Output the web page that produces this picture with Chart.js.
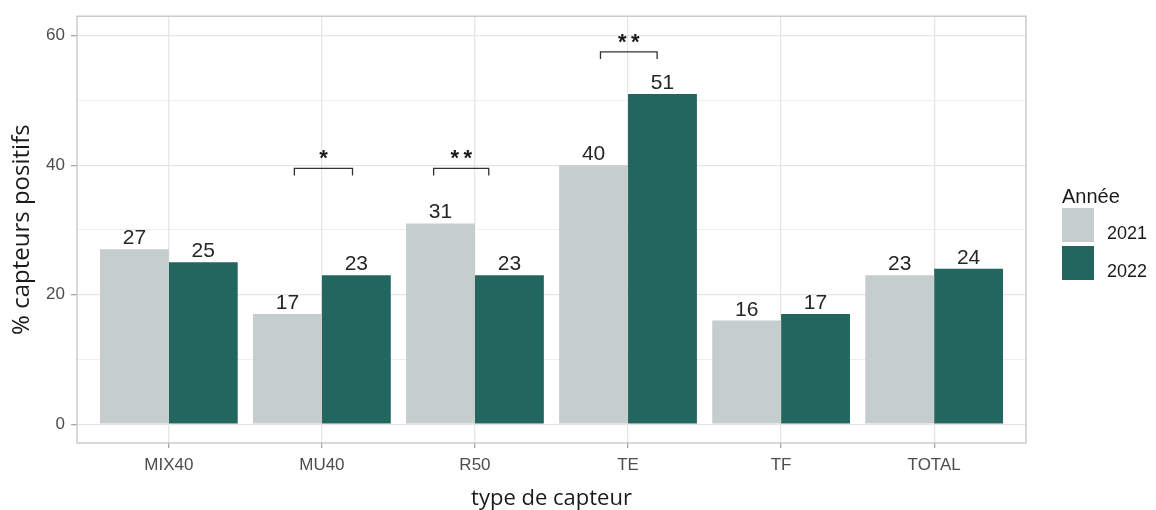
<!DOCTYPE html>
<html lang="fr">
<head>
<meta charset="utf-8">
<title>% capteurs positifs par type de capteur</title>
<script src="https://cdn.jsdelivr.net/npm/chart.js@4.4.1/dist/chart.umd.min.js"></script>
<style>
  html, body { margin: 0; padding: 0; background: #fff; }
  #chart { display: block; }
</style>
</head>
<body>
<canvas id="chart" width="1156" height="510"></canvas>
<script>
const categories = ['MIX40', 'MU40', 'R50', 'TE', 'TF', 'TOTAL'];
const years = ['2021', '2022'];
const values2021 = [27, 17, 31, 40, 16, 23];
const values2022 = [25, 23, 23, 51, 17, 24];
const yTicks = [0, 20, 40, 60];
const yMinorTicks = [10, 30, 50];

// différences significatives 2021 / 2022
const sigCategories = ['MU40', 'R50', 'TE'];
const sigStars = ['*', '**', '**'];
const sigLevels = [39.5, 39.5, 57.5];

const colors = ['#c5cdcd', '#23665f'];
const sansFont = 'Liberation Sans, Arial, sans-serif';
const titleFont = 'Open Sans, sans-serif';

// x linéaire : une unité par type de capteur
const toPoints = (vals) => vals.map((v, i) => ({ x: i + 1, y: v }));

const decorations = {
  id: 'decorations',
  afterDraw(chart, args, opts) {
    const { ctx, chartArea: area, scales: { x, y } } = chart;
    ctx.save();

    // cadre du panneau
    ctx.strokeStyle = '#c4c4c4';
    ctx.lineWidth = 1.3;
    ctx.strokeRect(area.left, area.top, area.right - area.left, area.bottom - area.top);

    // étiquettes de valeur
    ctx.fillStyle = '#262626';
    ctx.font = `21px ${sansFont}`;
    ctx.textAlign = 'center';
    ctx.textBaseline = 'alphabetic';
    chart.data.datasets.forEach((ds, di) => {
      chart.getDatasetMeta(di).data.forEach((bar, i) => {
        ctx.fillText(String(ds.data[i].y), bar.x, bar.y - 5);
      });
    });

    // crochets + étoiles
    ctx.strokeStyle = '#333';
    ctx.lineWidth = 1.3;
    sigCategories.forEach((cat, k) => {
      const c = categories.indexOf(cat) + 1;
      const [from, to] = opts.spans[k];
      const x1 = x.getPixelForValue(c + from);
      const x2 = x.getPixelForValue(c + to);
      const yTop = y.getPixelForValue(sigLevels[k]);
      const yTip = y.getPixelForValue(sigLevels[k] - opts.tip);
      ctx.beginPath();
      ctx.moveTo(x1, yTip);
      ctx.lineTo(x1, yTop);
      ctx.lineTo(x2, yTop);
      ctx.lineTo(x2, yTip);
      ctx.stroke();

      ctx.fillStyle = '#1a1a1a';
      ctx.font = `bold 22px ${sansFont}`;
      const mid = (x1 + x2) / 2;
      const n = sigStars[k].length;
      for (let s = 0; s < n; s++) {
        ctx.fillText('*', mid + (s - (n - 1) / 2) * 13, yTop - 3);
      }
    });

    // légende
    const lx = area.right + 36;
    ctx.textAlign = 'left';
    ctx.fillStyle = '#1a1a1a';
    ctx.font = `20px ${sansFont}`;
    ctx.fillText('Année', lx, 203);
    years.forEach((yr, i) => {
      const top = 208 + i * 38;
      ctx.fillStyle = colors[i];
      ctx.fillRect(lx, top, 32, 34);
      ctx.fillStyle = '#1a1a1a';
      ctx.font = `18px ${sansFont}`;
      ctx.fillText(yr, lx + 45, top + 31);
    });

    ctx.restore();
  }
};

new Chart(document.getElementById('chart'), {
  type: 'bar',
  data: {
    datasets: [
      { label: years[0], data: toPoints(values2021), backgroundColor: colors[0] },
      { label: years[1], data: toPoints(values2022), backgroundColor: colors[1] },
    ],
  },
  options: {
    responsive: false,
    animation: false,
    categoryPercentage: 0.9,
    barPercentage: 1,
    layout: { padding: { top: 14, right: 130, left: 0, bottom: 0 } },
    scales: {
      x: {
        type: 'linear',
        bounds: 'data',
        offset: false,
        min: 0.4,
        max: 6.6,
        afterBuildTicks: (scale) => {
          scale.ticks = categories.map((c, i) => ({ value: i + 1 }));
        },
        afterFit: (scale) => { scale.height = 67; },
        ticks: {
          callback: (value) => categories[value - 1],
          color: '#4d4d4d',
          font: { family: sansFont, size: 17 },
          padding: 7,
          autoSkip: false,
          maxRotation: 0,
        },
        grid: { offset: false, color: '#e6e6e6', lineWidth: 1.3, tickColor: '#a6a6a6', tickLength: 5 },
        border: { display: false },
        title: {
          display: true,
          text: 'type de capteur',
          color: '#1a1a1a',
          font: { family: titleFont, size: 22, lineHeight: 1 },
          padding: 0,
        },
      },
      y: {
        type: 'linear',
        bounds: 'data',
        min: -2.9,
        max: 63,
        afterBuildTicks: (scale) => {
          scale.ticks = [...yTicks, ...yMinorTicks].sort((a, b) => a - b).map((v) => ({ value: v }));
        },
        afterFit: (scale) => { scale.width = 77; },
        ticks: {
          callback: (value) => (yTicks.includes(value) ? value : ''),
          color: '#4d4d4d',
          font: { family: sansFont, size: 17 },
          padding: 6,
        },
        grid: {
          color: '#e6e6e6',
          lineWidth: (c) => (yTicks.includes(c.tick.value) ? 1.3 : 0.7),
          tickColor: (c) => (yTicks.includes(c.tick.value) ? '#a6a6a6' : 'rgba(0,0,0,0)'),
          tickLength: 6,
        },
        border: { display: false },
        title: {
          display: true,
          text: '% capteurs positifs',
          color: '#1a1a1a',
          font: { family: titleFont, size: 24, lineHeight: 1 },
          padding: { top: 10 },
        },
      },
    },
    plugins: {
      legend: { display: false },
      tooltip: { enabled: false },
      decorations: { spans: [[-0.18, 0.2], [-0.27, 0.09], [-0.18, 0.19]], tip: 1.1 },
    },
  },
  plugins: [decorations],
});
</script>
</body>
</html>
